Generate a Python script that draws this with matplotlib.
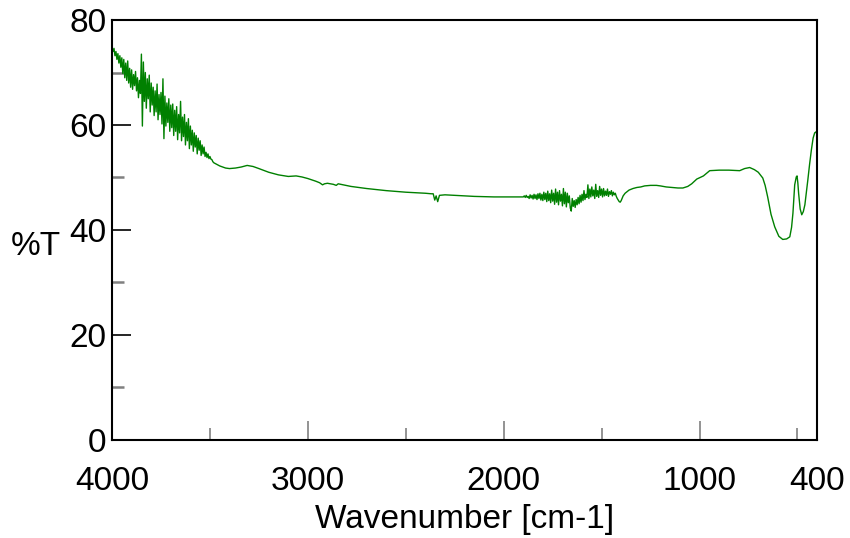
import matplotlib
matplotlib.use("Agg")
import matplotlib.pyplot as plt
import numpy as np

# IR spectrum
# noisy part at the high wavenumber end (4000 -> 3480, every 5 cm-1)
wn_noisy_hi = np.arange(4000, 3479, -5)
t_noisy_hi = [
    74.8, 74.0, 74.6, 73.2, 74.0, 72.5, 73.6, 71.8, 73.2, 71.0,
    72.8, 69.8, 72.5, 69.0, 71.8, 68.5, 72.2, 68.0, 70.8, 67.2,
    70.5, 66.8, 69.6, 67.5, 70.2, 66.5, 69.0, 65.2, 68.5, 66.0,
    73.5, 59.8, 72.0, 64.5, 70.0, 63.2, 68.8, 65.0, 69.5, 62.5,
    68.0, 63.8, 67.2, 61.8, 66.5, 62.5, 67.8, 61.0, 65.8, 62.0,
    66.2, 60.2, 68.8, 57.4, 65.5, 59.8, 64.2, 60.5, 65.0, 58.8,
    63.8, 59.5, 64.0, 58.0, 62.8, 58.8, 63.5, 57.2, 62.0, 58.5,
    64.5, 57.0, 61.5, 57.8, 62.0, 56.2, 60.5, 57.0, 61.2, 55.5,
    59.8, 56.2, 59.0, 55.0, 58.5, 55.8, 58.0, 54.5, 57.5, 55.2,
    57.0, 54.2, 56.2, 54.5, 55.8, 54.0, 54.8, 53.8, 54.5, 53.6,
    54.0, 53.5, 53.4, 53.0, 52.8,
]

# smooth part 3450 -> 1905
wn_mid = [3450, 3420, 3400, 3370, 3340, 3310, 3280, 3250, 3200, 3150,
          3100, 3060, 3030, 3000, 2960, 2940, 2925, 2915, 2900, 2870,
          2855, 2845, 2820, 2780, 2700, 2600, 2500, 2400, 2370, 2360,
          2352, 2345, 2337, 2328, 2300, 2250, 2150, 2050, 1950, 1905]
t_mid = [52.2, 51.8, 51.7, 51.8, 52.0, 52.3, 52.1, 51.7, 51.0, 50.5,
         50.2, 50.3, 50.1, 49.8, 49.3, 49.0, 48.6, 48.8, 48.9, 48.7,
         48.5, 48.8, 48.6, 48.3, 47.9, 47.5, 47.2, 47.0, 46.9, 46.9,
         45.7, 46.5, 45.4, 46.6, 46.7, 46.6, 46.4, 46.3, 46.3, 46.3]

# noisy part around water bending region (1900 -> 1400, every 5 cm-1)
wn_noisy_lo = np.arange(1900, 1399, -5)
t_noisy_lo = [
    46.3, 46.5, 46.2, 46.6, 46.2, 46.4, 46.0, 46.7, 46.1, 46.6,
    45.9, 46.8, 46.0, 46.7, 45.8, 46.9, 46.0, 47.0, 45.7, 46.8,
    45.6, 47.2, 45.8, 47.0, 45.4, 47.4, 45.6, 46.9, 45.2, 47.6,
    45.5, 47.0, 44.9, 47.8, 45.3, 47.2, 44.8, 47.5, 45.5, 46.8,
    44.6, 47.9, 45.0, 47.2, 44.4, 47.0, 45.2, 46.5, 44.2, 43.6,
    46.0, 44.5, 45.6, 44.3, 45.8, 44.8, 46.2, 45.0, 46.6, 45.3,
    46.8, 45.6, 47.5, 45.8, 46.8, 46.2, 48.6, 46.0, 47.8, 46.3,
    48.2, 46.5, 47.6, 46.0, 48.7, 46.4, 47.5, 46.2, 48.3, 46.6,
    47.8, 46.3, 47.9, 46.5, 47.4, 46.6, 47.8, 46.4, 47.3, 46.8,
    47.5, 46.5, 47.2, 46.7, 47.0, 46.4, 46.0, 45.7, 45.4, 45.3,
    45.6,
]

# fingerprint end 1390 -> 400
wn_low = [1390, 1380, 1360, 1340, 1320, 1300, 1280, 1250, 1220, 1200,
          1170, 1140, 1110, 1085, 1060, 1040, 1014, 980, 948, 900,
          850, 795, 770, 744, 720, 700, 677, 665, 652, 635,
          616, 595, 575, 555, 539, 530, 523, 514, 506, 502,
          498, 494, 486, 478, 470, 462, 447, 438, 429, 420,
          412, 405, 400]
t_low = [46.5, 47.0, 47.6, 47.9, 48.1, 48.2, 48.4, 48.5, 48.5, 48.4,
         48.2, 48.1, 48.0, 48.0, 48.3, 48.8, 49.7, 50.3, 51.3, 51.4,
         51.4, 51.3, 51.7, 51.9, 51.5, 51.0, 49.9, 48.5, 46.3, 43.0,
         40.6, 38.8, 38.2, 38.3, 38.7, 40.5, 43.2, 48.6, 50.1, 50.3,
         49.0, 47.0, 44.0, 42.9, 43.5, 44.8, 49.5, 52.5, 55.2, 57.5,
         58.5, 58.7, 58.2]

wn = np.concatenate([wn_noisy_hi, wn_mid, wn_noisy_lo, wn_low])
t = np.concatenate([t_noisy_hi, t_mid, t_noisy_lo, t_low])

plt.rcParams['font.family'] = ['Liberation Sans', 'DejaVu Sans']

fig = plt.figure(figsize=(8.5, 5.38), dpi=100)
ax = fig.add_axes([0.1318, 0.1822, 0.8294, 0.7806])

ax.plot(wn, t, color='#008000', lw=1.0)

ax.set_xlim(4000, 400)
ax.set_ylim(0, 80)

ax.set_xticks([4000, 3000, 2000, 1000, 400])
ax.set_xticks([3500, 2500, 1500, 500], minor=True)
ax.set_yticks([0, 20, 40, 60, 80])
ax.set_yticks([10, 30, 50, 70], minor=True)

ax.tick_params(axis='x', which='both', direction='in', color='#808080',
               width=1.2, labelsize=24, pad=19)
ax.tick_params(axis='x', which='major', length=14)
ax.tick_params(axis='x', which='minor', length=8.5)
ax.tick_params(axis='y', which='major', direction='in', length=14,
               width=1.2, color='black', labelsize=24, pad=4)
ax.tick_params(axis='y', which='minor', direction='in', length=8.5,
               width=1.8, color='#808080')

for s in ax.spines.values():
    s.set_linewidth(1.5)

ax.set_xlabel('Wavenumber [cm-1]', fontsize=24, labelpad=5)
ax.set_ylabel('%T', fontsize=24, rotation=0, va='center', ha='center')
ax.yaxis.set_label_coords(-0.108, 0.46)

fig.savefig('out.png', dpi=100)
